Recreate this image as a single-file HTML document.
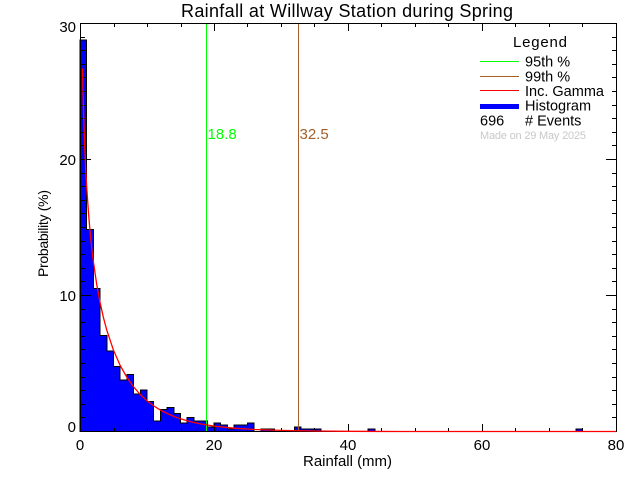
<!DOCTYPE html>
<html><head><meta charset="utf-8"><style>
html,body{margin:0;padding:0;background:#fff;}
svg{display:block;}
text{font-family:"Liberation Sans",sans-serif;}
</style></head><body>
<svg width="640" height="480" viewBox="0 0 640 480" xmlns="http://www.w3.org/2000/svg">
<rect x="0" y="0" width="640" height="480" fill="#fff"/>
<!-- histogram -->
<path d="M80,431.5 V40.2 H86.7 V229.7 H93.4 V288.4 H100.1 V335.3 H106.8 V350.9 H113.5 V366.5 H120.2 V380.2 H126.9 V374.3 H133.6 V393.9 H140.3 V390 H147 V401.7 H153.7 V421.2 H160.4 V409.5 H167.1 V407.6 H173.8 V413.4 H180.5 V423.2 H187.2 V417.3 H193.9 V421.2 H207.3 V427.1 H214 V423.2 H220.7 V425.1 H227.4 V429 H234.1 V425.1 H247.5 V423.2 H254.2 V431.5 H260.9 V429 H274.3 V431.5 H294.4 V427.1 H301.1 V429 H321.2 V431.5 H368.1 V429 H374.8 V431.5 H575.8 V429 H582.5 V431.5 Z" fill="#0000ff" stroke="#000" stroke-width="1" shape-rendering="crispEdges"/>
<!-- percentile lines -->
<line x1="206.5" y1="23" x2="206.5" y2="431" stroke="#00ff00" stroke-width="1" shape-rendering="crispEdges"/>
<line x1="298.5" y1="23" x2="298.5" y2="431" stroke="#a65f28" stroke-width="1" shape-rendering="crispEdges"/>
<text x="207.5" y="139" font-size="15" fill="#00ff00">18.8</text>
<text x="299.5" y="139" font-size="15" fill="#a65f28">32.5</text>
<!-- axes box -->
<rect x="80.5" y="23.5" width="536" height="408" fill="none" stroke="#000" stroke-width="1" shape-rendering="crispEdges"/>
<!-- y ticks -->
<path stroke="#000" stroke-width="1" fill="none" shape-rendering="crispEdges" d="
M80 431.5h11 M80 417.5h5 M80 404.5h5 M80 390.5h5 M80 377.5h5 M80 363.5h5 M80 349.5h5 M80 336.5h5 M80 322.5h5 M80 309.5h5
M80 295.5h11 M80 281.5h5 M80 268.5h5 M80 254.5h5 M80 241.5h5 M80 227.5h5 M80 213.5h5 M80 200.5h5 M80 186.5h5 M80 173.5h5
M80 159.5h11 M80 145.5h5 M80 132.5h5 M80 118.5h5 M80 105.5h5 M80 91.5h5 M80 77.5h5 M80 64.5h5 M80 50.5h5 M80 37.5h5 M80 23.5h11
M617 431.5h-11 M617 417.5h-5 M617 404.5h-5 M617 390.5h-5 M617 377.5h-5 M617 363.5h-5 M617 349.5h-5 M617 336.5h-5 M617 322.5h-5 M617 309.5h-5
M617 295.5h-11 M617 281.5h-5 M617 268.5h-5 M617 254.5h-5 M617 241.5h-5 M617 227.5h-5 M617 213.5h-5 M617 200.5h-5 M617 186.5h-5 M617 173.5h-5
M617 159.5h-11 M617 145.5h-5 M617 132.5h-5 M617 118.5h-5 M617 105.5h-5 M617 91.5h-5 M617 77.5h-5 M617 64.5h-5 M617 50.5h-5 M617 37.5h-5 M617 23.5h-11
"/>
<!-- x ticks -->
<path stroke="#000" stroke-width="1" fill="none" shape-rendering="crispEdges" d="
M80.5 432v-8 M114.5 432v-4 M147.5 432v-4 M181.5 432v-4 M214.5 432v-8 M247.5 432v-4 M281.5 432v-4 M314.5 432v-4
M348.5 432v-8 M381.5 432v-4 M415.5 432v-4 M448.5 432v-4 M482.5 432v-8 M515.5 432v-4 M549.5 432v-4 M582.5 432v-4 M616.5 432v-8
M80.5 23v8 M114.5 23v4 M147.5 23v4 M181.5 23v4 M214.5 23v8 M247.5 23v4 M281.5 23v4 M314.5 23v4
M348.5 23v8 M381.5 23v4 M415.5 23v4 M448.5 23v4 M482.5 23v8 M515.5 23v4 M549.5 23v4 M582.5 23v4 M616.5 23v8
"/>
<!-- gamma curve -->
<polyline fill="none" stroke="#ff0000" stroke-width="1.3" points="82.5,68.5 83,91.9 83.7,116.9 84.7,146 85.7,168.6 86.7,187 88.4,211.7 90.05,231.4 91.7,247.8 93.4,261.8 96.75,284.6 100.1,302.7 103.45,317.7 106.8,330.2 113.5,350.3 120.2,365.5 126.9,377.4 133.6,386.9 140.3,394.5 147,400.8 153.7,405.9 160.4,410.1 167.1,413.5 173.8,416.4 180.5,418.8 187.2,420.8 193.9,422.5 200.6,423.9 214,426.1 234.1,428.2 254.2,429.5 281,430.4 314.5,431 348,431.3 400,431.5 616,431.5"/>
<!-- tick labels -->
<g font-size="15" fill="#000">
<text x="76" y="432" text-anchor="end">0</text>
<text x="76" y="301" text-anchor="end">10</text>
<text x="76" y="165" text-anchor="end">20</text>
<text x="76" y="32" text-anchor="end">30</text>
<text x="80" y="450" text-anchor="middle">0</text>
<text x="214" y="450" text-anchor="middle">20</text>
<text x="348" y="450" text-anchor="middle">40</text>
<text x="482" y="450" text-anchor="middle">60</text>
<text x="616" y="450" text-anchor="middle">80</text>
</g>
<!-- titles -->
<text x="181" y="17" font-size="18" textLength="332" lengthAdjust="spacing">Rainfall at Willway Station during Spring</text>
<text x="303" y="466" font-size="15" textLength="89" lengthAdjust="spacing">Rainfall (mm)</text>
<text transform="translate(48,277) rotate(-90)" font-size="14" textLength="87" lengthAdjust="spacing">Probability (%)</text>
<!-- legend -->
<text x="513" y="47" font-size="15" textLength="54" lengthAdjust="spacing">Legend</text>
<line x1="480" y1="61.5" x2="519" y2="61.5" stroke="#00ff00" stroke-width="1" shape-rendering="crispEdges"/>
<line x1="480" y1="76.5" x2="519" y2="76.5" stroke="#a65f28" stroke-width="1" shape-rendering="crispEdges"/>
<line x1="480" y1="90.5" x2="519" y2="90.5" stroke="#ff0000" stroke-width="1" shape-rendering="crispEdges"/>
<rect x="480" y="104" width="39" height="5" fill="#0000ff"/>
<g font-size="14.5" fill="#000">
<text x="525" y="66.5">95th %</text>
<text x="525" y="81.5">99th %</text>
<text x="525" y="96" textLength="79" lengthAdjust="spacing">Inc. Gamma</text>
<text x="525" y="110.5">Histogram</text>
<text x="480" y="125.5">696</text>
<text x="525" y="125.5"># Events</text>
</g>
<text x="480" y="139" font-size="11" fill="#c8c8c8" textLength="106" lengthAdjust="spacing">Made on 29 May 2025</text>
</svg>
</body></html>
